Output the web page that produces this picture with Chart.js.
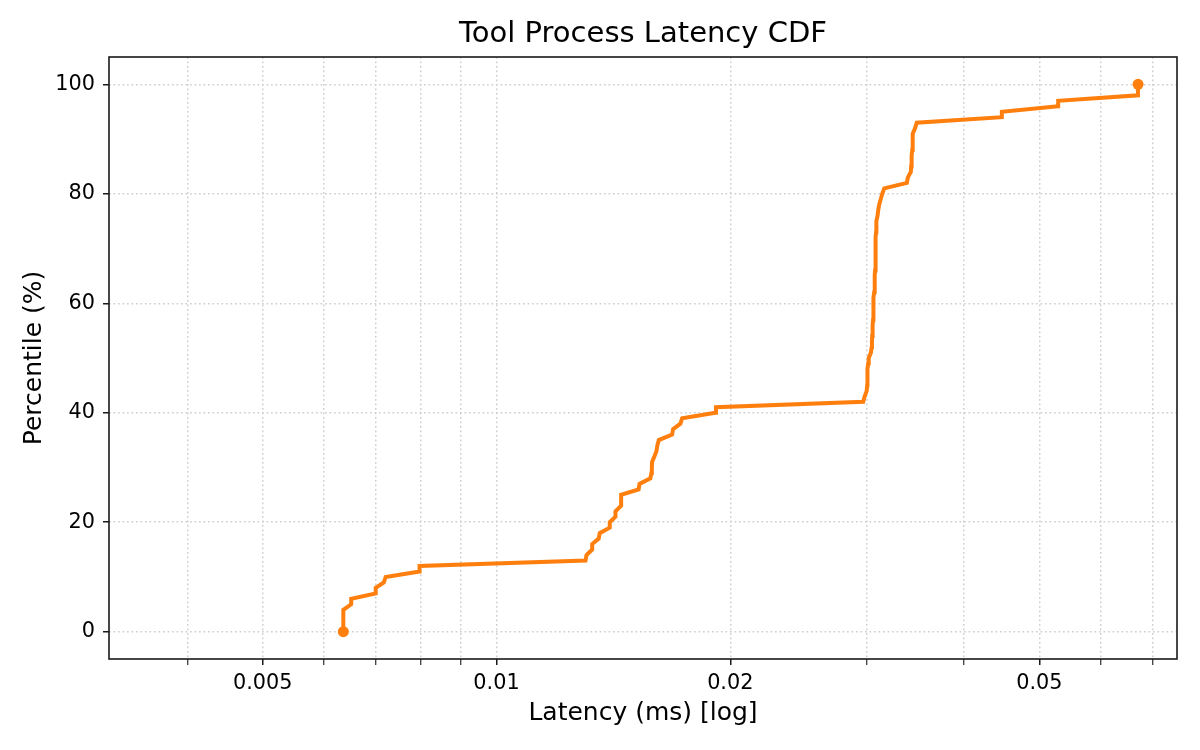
<!DOCTYPE html>
<html>
<head>
<meta charset="utf-8">
<script src="https://cdn.jsdelivr.net/npm/chart.js@4.4.1/dist/chart.umd.min.js"></script>
<style>
  html, body { margin: 0; padding: 0; background: #fff; }
  #wrap { width: 1200px; height: 750px; }
</style>
</head>
<body>
<div id="wrap"><canvas id="cdfChart"></canvas></div>
<script>
// sorted latency samples (ms), one per percentile step
var latencyMs = [
    0.00635, 0.00635, 0.00635, 0.00635, 0.00635, 0.00650, 0.00650, 0.00699, 0.00699, 0.00716,
    0.00720, 0.00796, 0.00796, 0.01302, 0.01306, 0.01328, 0.01328, 0.01354, 0.01358, 0.01399,
    0.01399, 0.01423, 0.01423, 0.01447, 0.01447, 0.01447, 0.01524, 0.01528, 0.01578, 0.01583,
    0.01585, 0.01586, 0.01597, 0.01607, 0.01611, 0.01618, 0.01683, 0.01688, 0.01725, 0.01734,
    0.01913, 0.01917, 0.02966, 0.02979, 0.02997, 0.03001, 0.03001, 0.03004, 0.03006, 0.03010,
    0.03015, 0.03035, 0.03042, 0.03044, 0.03046, 0.03049, 0.03051, 0.03054, 0.03055, 0.03057,
    0.03058, 0.03060, 0.03064, 0.03067, 0.03069, 0.03071, 0.03072, 0.03074, 0.03074, 0.03076,
    0.03078, 0.03079, 0.03080, 0.03081, 0.03083, 0.03085, 0.03095, 0.03101, 0.03110, 0.03124,
    0.03138, 0.03157, 0.03376, 0.03386, 0.03416, 0.03419, 0.03422, 0.03426, 0.03430, 0.03433,
    0.03435, 0.03437, 0.03460, 0.03476, 0.04474, 0.04474, 0.05285, 0.05287, 0.06698, 0.06698,
    0.06700
];
var percentile = [
    0, 1, 2, 3, 4, 5, 6, 7, 8, 9,
    10, 11, 12, 13, 14, 15, 16, 17, 18, 19,
    20, 21, 22, 23, 24, 25, 26, 27, 28, 29,
    30, 31, 32, 33, 34, 35, 36, 37, 38, 39,
    40, 41, 42, 43, 44, 45, 46, 47, 48, 49,
    50, 51, 52, 53, 54, 55, 56, 57, 58, 59,
    60, 61, 62, 63, 64, 65, 66, 67, 68, 69,
    70, 71, 72, 73, 74, 75, 76, 77, 78, 79,
    80, 81, 82, 83, 84, 85, 86, 87, 88, 89,
    90, 91, 92, 93, 94, 95, 96, 97, 98, 99,
    100
];
var xTicks = [0.004, 0.005, 0.006, 0.007, 0.008, 0.009, 0.01, 0.02, 0.03, 0.04, 0.05, 0.06, 0.07];
var xTickLabels = ['', '0.005', '', '', '', '', '0.01', '0.02', '', '', '0.05', '', ''];
var yTicks = [0, 20, 40, 60, 80, 100];

var points = latencyMs.map(function(v, i) { return {x: v, y: percentile[i]}; });
var lastIdx = points.length - 1;

var frame = {
    id: 'frame',
    afterDatasetsDraw: function(chart) {
        var a = chart.chartArea, c = chart.ctx;
        c.save();
        c.strokeStyle = '#1a1a1a';
        c.lineWidth = 1.6;
        c.strokeRect(a.left, a.top, a.right - a.left, a.bottom - a.top);
        c.restore();
    }
};

Chart.defaults.font.family = "'DejaVu Sans', sans-serif";
Chart.defaults.color = '#000';

new Chart(document.getElementById('cdfChart').getContext('2d'), {
    type: 'line',
    data: {
        datasets: [{
            data: points,
            borderColor: '#ff7f0e',
            backgroundColor: '#ff7f0e',
            borderWidth: 4,
            tension: 0,
            fill: false,
            pointRadius: function(ctx) { return (ctx.dataIndex === 0 || ctx.dataIndex === lastIdx) ? 5.5 : 0; },
            pointBorderWidth: 0,
            pointHoverRadius: 0
        }]
    },
    options: {
        animation: false,
        responsive: true,
        maintainAspectRatio: false,
        layout: { padding: { top: 0, left: 0, right: 23, bottom: 0 } },
        plugins: {
            legend: { display: false },
            tooltip: { enabled: false },
            title: {
                display: true,
                text: 'Tool Process Latency CDF',
                fullSize: false,
                font: { size: 29, weight: 'normal' },
                padding: { top: 17.5, bottom: 4.7 }
            }
        },
        scales: {
            x: {
                type: 'logarithmic',
                min: 0.00317,
                max: 0.0752,
                afterBuildTicks: function(scale) {
                    scale.ticks = xTicks.map(function(v) { return {value: v}; });
                },
                afterFit: function(scale) { scale.height = 91; },
                ticks: {
                    autoSkip: false,
                    maxRotation: 0,
                    padding: 6,
                    font: { size: 20.8 },
                    callback: function(value) {
                        var i = xTicks.indexOf(value);
                        return i >= 0 ? xTickLabels[i] : '';
                    }
                },
                grid: {
                    color: '#cfcfcf',
                    lineWidth: 1.5,
                    tickColor: '#1a1a1a',
                    tickLength: 6,
                    tickWidth: function(ctx) {
                        return xTickLabels[ctx.index] ? 1.5 : 1.1;
                    }
                },
                border: { display: false, dash: [1.7, 2.8] },
                title: {
                    display: true,
                    text: 'Latency (ms) [log]',
                    font: { size: 25 },
                    padding: { top: 0, bottom: 22 }
                }
            },
            y: {
                type: 'linear',
                min: -5,
                max: 105,
                afterBuildTicks: function(scale) {
                    scale.ticks = yTicks.map(function(v) { return {value: v}; });
                },
                afterFit: function(scale) { scale.width = 109; },
                ticks: {
                    padding: 8,
                    font: { size: 20.8 }
                },
                grid: {
                    color: '#cfcfcf',
                    lineWidth: 1.5,
                    tickColor: '#1a1a1a',
                    tickLength: 6,
                    tickWidth: 1.5
                },
                border: { display: false, dash: [1.7, 2.8] },
                title: {
                    display: true,
                    text: 'Percentile (%)',
                    font: { size: 25 },
                    padding: { top: 19, bottom: 0 }
                }
            }
        }
    },
    plugins: [frame]
});
</script>
</body>
</html>
